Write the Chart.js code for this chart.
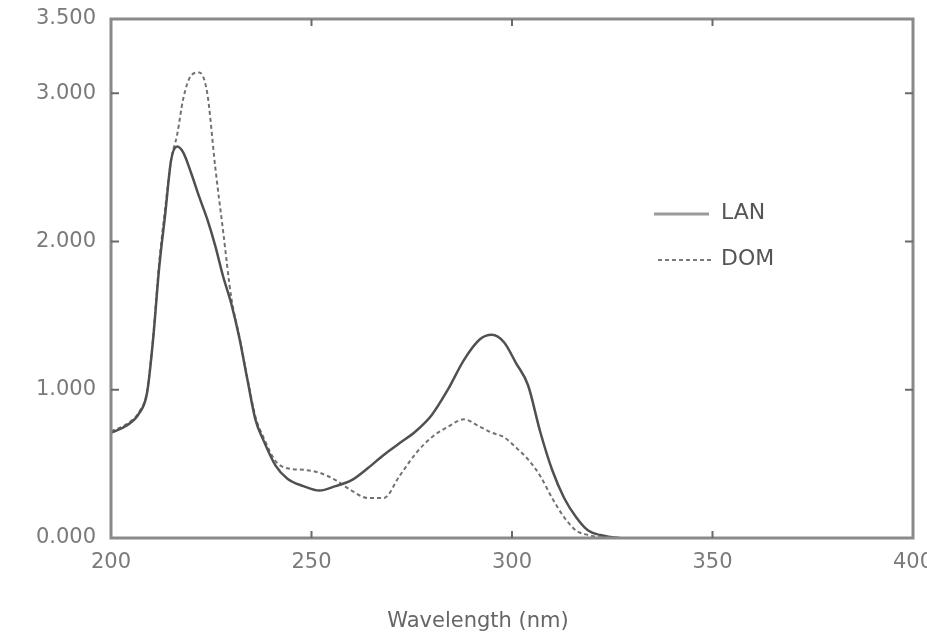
<!DOCTYPE html>
<html>
<head>
<meta charset="utf-8">
<script src="https://cdn.jsdelivr.net/npm/chart.js@4"></script>
<style>
  html, body { margin: 0; padding: 0; background: #fff; }
  #wrap { width: 927px; height: 635px; }
</style>
</head>
<body>
<div id="wrap"><canvas id="spec"></canvas></div>
<script>
// data
var wavelengths = [200, 204, 207, 209, 210.5, 212, 213.5, 215, 216.5, 218, 220, 222, 224, 226, 228, 230, 232, 234, 236, 238, 241, 244, 248, 252, 256, 260, 264, 268, 272, 276, 280, 284, 288, 292, 295, 298, 301, 304, 307, 310, 313, 316, 319, 322, 325, 327];
var lanValues = [0.71, 0.76, 0.84, 0.98, 1.34, 1.82, 2.18, 2.55, 2.64, 2.60, 2.46, 2.30, 2.15, 1.97, 1.76, 1.58, 1.35, 1.07, 0.80, 0.66, 0.49, 0.40, 0.35, 0.32, 0.35, 0.39, 0.47, 0.56, 0.64, 0.72, 0.83, 1.00, 1.20, 1.34, 1.37, 1.32, 1.18, 1.03, 0.72, 0.46, 0.27, 0.14, 0.05, 0.02, 0.005, 0];
var domValues = [0.72, 0.77, 0.85, 0.99, 1.35, 1.85, 2.22, 2.55, 2.72, 2.96, 3.12, 3.14, 3.00, 2.50, 2.06, 1.62, 1.36, 1.08, 0.82, 0.68, 0.52, 0.47, 0.46, 0.44, 0.39, 0.32, 0.27, 0.27, 0.42, 0.57, 0.68, 0.75, 0.80, 0.75, 0.71, 0.68, 0.61, 0.53, 0.42, 0.27, 0.14, 0.05, 0.02, 0.005, 0, 0];
var yTickValues = [0, 1, 2, 3, 3.5];
var xTickValues = [200, 250, 300, 350, 400];
var xTitle = 'Wavelength (nm)';

function toPoints(xs, ys) {
	var pts = [];
	for (var i = 0; i < xs.length; i++) {
		pts.push({ x: xs[i], y: ys[i] });
	}
	return pts;
}

// frame, inner ticks, legend, axis title
var framePlugin = {
	id: 'frame',
	afterDraw: function(chart) {
		var ctx = chart.ctx;
		var a = chart.chartArea;
		var xs = chart.scales.x, ys = chart.scales.y;
		ctx.save();
		ctx.strokeStyle = '#8a8a8a';
		ctx.lineWidth = 3;
		ctx.strokeRect(a.left, a.top, a.right - a.left, a.bottom - a.top);

		ctx.strokeStyle = '#6a6a6a';
		ctx.lineWidth = 2;
		ctx.beginPath();
		yTickValues.forEach(function(v) {
			if (v == 0 || v == 3.5) return;
			var py = ys.getPixelForValue(v);
			ctx.moveTo(a.left, py); ctx.lineTo(a.left + 8, py);
			ctx.moveTo(a.right, py); ctx.lineTo(a.right - 8, py);
		});
		xTickValues.forEach(function(v) {
			if (v == 200 || v == 400) return;
			var px = xs.getPixelForValue(v);
			ctx.moveTo(px, a.bottom); ctx.lineTo(px, a.bottom - 7);
			ctx.moveTo(px, a.top); ctx.lineTo(px, a.top + 7);
		});
		ctx.stroke();

		// legend
		var rows = [{ y: 214 }, { y: 260 }];
		ctx.font = '22px "DejaVu Sans"';
		ctx.textBaseline = 'middle';
		chart.data.datasets.forEach(function(ds, i) {
			var y = rows[i].y;
			ctx.strokeStyle = i == 0 ? '#9a9a9a' : '#7a7a7a';
			ctx.lineWidth = i == 0 ? 3 : 2;
			ctx.setLineDash(ds.borderDash || []);
			ctx.beginPath();
			ctx.moveTo(654 + (i * 4), y);
			ctx.lineTo(709 + (i * 3), y);
			ctx.stroke();
			ctx.setLineDash([]);
			ctx.fillStyle = '#555';
			ctx.fillText(ds.label, 721, y - 1);
		});

		// x title (sits left of centre in the original)
		ctx.font = '21px "DejaVu Sans"';
		ctx.fillStyle = '#666';
		ctx.textAlign = 'center';
		ctx.fillText(xTitle, 478, 622);
		ctx.restore();
	}
};

var ctx = document.getElementById('spec').getContext('2d');
var chart = new Chart(ctx, {
	type: 'line',
	data: {
		datasets: [
			{
				label: 'LAN',
				data: toPoints(wavelengths, lanValues),
				borderColor: '#505050',
				borderWidth: 2.5,
				pointRadius: 0,
				cubicInterpolationMode: 'monotone',
				fill: false
			},
			{
				label: 'DOM',
				data: toPoints(wavelengths, domValues),
				borderColor: '#727272',
				borderWidth: 2,
				borderDash: [4, 3],
				pointRadius: 0,
				cubicInterpolationMode: 'monotone',
				fill: false
			}
		]
	},
	options: {
		responsive: true,
		maintainAspectRatio: false,
		animation: false,
		layout: { padding: { left: 0, right: 14, top: 19, bottom: 0 } },
		plugins: {
			legend: { display: false },
			tooltip: { enabled: false }
		},
		scales: {
			x: {
				type: 'linear',
				min: 200,
				max: 400,
				afterBuildTicks: function(scale) {
					scale.ticks = xTickValues.map(function(v) { return { value: v }; });
				},
				afterFit: function(scale) {
					scale.height = 97;
					scale.paddingLeft = 0;
					scale.paddingRight = 0;
				},
				grid: { display: false, drawTicks: false },
				border: { display: false },
				ticks: {
					padding: 12,
					maxRotation: 0,
					autoSkip: false,
					color: '#7a7a7a',
					font: { family: 'DejaVu Sans', size: 21 }
				}
			},
			y: {
				min: 0,
				max: 3.5,
				afterBuildTicks: function(scale) {
					scale.ticks = yTickValues.map(function(v) { return { value: v }; });
				},
				afterFit: function(scale) {
					scale.width = 111;
					scale.paddingTop = 0;
					scale.paddingBottom = 0;
				},
				grid: { display: false, drawTicks: false },
				border: { display: false },
				ticks: {
					padding: 15,
					color: '#7a7a7a',
					font: { family: 'DejaVu Sans', size: 21 },
					callback: function(v) { return Number(v).toFixed(3); }
				}
			}
		}
	},
	plugins: [framePlugin]
});
</script>
</body>
</html>
